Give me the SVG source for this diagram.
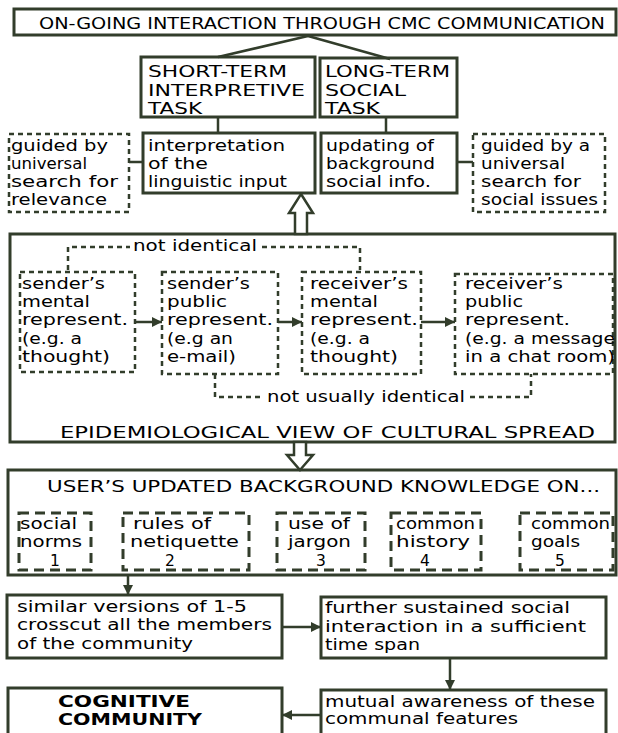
<svg xmlns="http://www.w3.org/2000/svg" width="618" height="733" viewBox="0 0 618 733">
<style>
.box{fill:#fff;stroke:#323d2b;stroke-width:3}
.dbox{fill:none;stroke:#323d2b;stroke-width:2.5;stroke-dasharray:5 4}
.lbox{fill:none;stroke:#323d2b;stroke-width:3;stroke-dasharray:10 6}
.ln{stroke:#323d2b;stroke-width:2.5;fill:none}
.dl{stroke:#323d2b;stroke-width:2.5;stroke-dasharray:5 4;fill:none}
.hol{fill:#fff;stroke:#323d2b;stroke-width:2.5;stroke-linejoin:miter}
text{font-family:"DejaVu Sans","Liberation Sans",sans-serif;fill:#000}
.t{font-size:15.5px}
.c{font-size:16px}
.b{font-size:15.5px;font-weight:bold}
</style>
<defs>
<marker id="ah" viewBox="0 0 10 10" refX="10" refY="5" markerWidth="10" markerHeight="10" markerUnits="userSpaceOnUse" orient="auto">
<path d="M0,0 L10,5 L0,10 z" fill="#323d2b"/>
</marker>
</defs>
<rect width="618" height="733" fill="#fff"/>

<g id="top">
<rect class="box" x="14" y="9" width="602" height="26"/>
<text class="c" x="39" y="29" textLength="566" lengthAdjust="spacingAndGlyphs">ON-GOING INTERACTION THROUGH CMC COMMUNICATION</text>
</g>

<g id="short-term">
<rect class="box" x="141" y="57" width="174" height="60"/>
<text class="c" x="148" y="77" textLength="139" lengthAdjust="spacingAndGlyphs">SHORT-TERM</text>
<text class="c" x="148" y="96" textLength="157" lengthAdjust="spacingAndGlyphs">INTERPRETIVE</text>
<text class="c" x="148" y="114" textLength="54" lengthAdjust="spacingAndGlyphs">TASK</text>
</g>

<g id="long-term">
<rect class="box" x="320" y="58" width="137" height="59"/>
<text class="c" x="325" y="77" textLength="125" lengthAdjust="spacingAndGlyphs">LONG-TERM</text>
<text class="c" x="325" y="96" textLength="81" lengthAdjust="spacingAndGlyphs">SOCIAL</text>
<text class="c" x="325" y="114" textLength="55" lengthAdjust="spacingAndGlyphs">TASK</text>
</g>

<g id="guided-relevance">
<rect class="dbox" x="9" y="134" width="120" height="78"/>
<text class="t" x="11" y="151" textLength="97" lengthAdjust="spacingAndGlyphs">guided by</text>
<text class="t" x="11" y="169" textLength="76" lengthAdjust="spacingAndGlyphs">universal</text>
<text class="t" x="11" y="187" textLength="107" lengthAdjust="spacingAndGlyphs">search for</text>
<text class="t" x="11" y="205" textLength="96" lengthAdjust="spacingAndGlyphs">relevance</text>
</g>

<g id="interpretation">
<rect class="box" x="143" y="133" width="172" height="60"/>
<text class="t" x="148" y="151" textLength="137" lengthAdjust="spacingAndGlyphs">interpretation</text>
<text class="t" x="148" y="169" textLength="60" lengthAdjust="spacingAndGlyphs">of the</text>
<text class="t" x="148" y="187" textLength="139" lengthAdjust="spacingAndGlyphs">linguistic input</text>
</g>

<g id="updating">
<rect class="box" x="321" y="133" width="136" height="60"/>
<text class="t" x="326" y="151" textLength="108" lengthAdjust="spacingAndGlyphs">updating of</text>
<text class="t" x="326" y="169" textLength="109" lengthAdjust="spacingAndGlyphs">background</text>
<text class="t" x="326" y="187" textLength="105" lengthAdjust="spacingAndGlyphs">social info.</text>
</g>

<g id="guided-social">
<rect class="dbox" x="473" y="134" width="132" height="78"/>
<text class="t" x="481" y="151" textLength="109" lengthAdjust="spacingAndGlyphs">guided by a</text>
<text class="t" x="481" y="169" textLength="84" lengthAdjust="spacingAndGlyphs">universal</text>
<text class="t" x="481" y="187" textLength="100" lengthAdjust="spacingAndGlyphs">search for</text>
<text class="t" x="481" y="205" textLength="117" lengthAdjust="spacingAndGlyphs">social issues</text>
</g>

<g id="epidemiological">
<rect class="box" x="10" y="234" width="605" height="208"/>
<text class="t" x="133" y="251" textLength="124" lengthAdjust="spacingAndGlyphs">not identical</text>
<text class="t" x="267" y="402" textLength="198" lengthAdjust="spacingAndGlyphs">not usually identical</text>
<text class="c" x="60" y="438" textLength="535" lengthAdjust="spacingAndGlyphs">EPIDEMIOLOGICAL VIEW OF CULTURAL SPREAD</text>
</g>

<g id="sender-mental">
<rect class="dbox" x="20" y="272" width="115" height="100"/>
<text class="t" x="22" y="289" textLength="83" lengthAdjust="spacingAndGlyphs">sender’s</text>
<text class="t" x="22" y="307" textLength="68" lengthAdjust="spacingAndGlyphs">mental</text>
<text class="t" x="22" y="325" textLength="106" lengthAdjust="spacingAndGlyphs">represent.</text>
<text class="t" x="22" y="344" textLength="60" lengthAdjust="spacingAndGlyphs">(e.g. a</text>
<text class="t" x="22" y="362" textLength="88" lengthAdjust="spacingAndGlyphs">thought)</text>
</g>

<g id="sender-public">
<rect class="dbox" x="162" y="272" width="116" height="102"/>
<text class="t" x="167" y="289" textLength="83" lengthAdjust="spacingAndGlyphs">sender’s</text>
<text class="t" x="167" y="307" textLength="60" lengthAdjust="spacingAndGlyphs">public</text>
<text class="t" x="167" y="325" textLength="106" lengthAdjust="spacingAndGlyphs">represent.</text>
<text class="t" x="167" y="344" textLength="66" lengthAdjust="spacingAndGlyphs">(e.g an</text>
<text class="t" x="167" y="362" textLength="69" lengthAdjust="spacingAndGlyphs">e-mail)</text>
</g>

<g id="receiver-mental">
<rect class="dbox" x="302" y="272" width="119" height="102"/>
<text class="t" x="310" y="289" textLength="98" lengthAdjust="spacingAndGlyphs">receiver’s</text>
<text class="t" x="310" y="307" textLength="68" lengthAdjust="spacingAndGlyphs">mental</text>
<text class="t" x="310" y="325" textLength="108" lengthAdjust="spacingAndGlyphs">represent.</text>
<text class="t" x="310" y="344" textLength="60" lengthAdjust="spacingAndGlyphs">(e.g. a</text>
<text class="t" x="310" y="362" textLength="88" lengthAdjust="spacingAndGlyphs">thought)</text>
</g>

<g id="receiver-public">
<rect class="dbox" x="455" y="274" width="158" height="100"/>
<text class="t" x="465" y="289" textLength="98" lengthAdjust="spacingAndGlyphs">receiver’s</text>
<text class="t" x="465" y="307" textLength="58" lengthAdjust="spacingAndGlyphs">public</text>
<text class="t" x="465" y="325" textLength="105" lengthAdjust="spacingAndGlyphs">represent.</text>
<text class="t" x="465" y="344" textLength="150" lengthAdjust="spacingAndGlyphs">(e.g. a message</text>
<text class="t" x="465" y="362" textLength="150" lengthAdjust="spacingAndGlyphs">in a chat room)</text>
</g>

<g id="user-knowledge">
<rect class="box" x="8" y="470" width="608" height="105"/>
<text class="c" x="47" y="492" textLength="553" lengthAdjust="spacingAndGlyphs">USER’S UPDATED BACKGROUND KNOWLEDGE ON...</text>
</g>

<g id="k1">
<rect class="lbox" x="19" y="513" width="72" height="57"/>
<text class="t" x="20" y="529" textLength="57" lengthAdjust="spacingAndGlyphs">social</text>
<text class="t" x="20" y="547" textLength="62" lengthAdjust="spacingAndGlyphs">norms</text>
<text class="t" x="55" y="566" text-anchor="middle">1</text>
</g>
<g id="k2">
<rect class="lbox" x="123" y="513" width="126" height="57"/>
<text class="t" x="133" y="529" textLength="78" lengthAdjust="spacingAndGlyphs">rules of</text>
<text class="t" x="130" y="547" textLength="109" lengthAdjust="spacingAndGlyphs">netiquette</text>
<text class="t" x="170" y="566" text-anchor="middle">2</text>
</g>
<g id="k3">
<rect class="lbox" x="277" y="513" width="88" height="57"/>
<text class="t" x="288" y="529" textLength="62" lengthAdjust="spacingAndGlyphs">use of</text>
<text class="t" x="288" y="547" textLength="63" lengthAdjust="spacingAndGlyphs">jargon</text>
<text class="t" x="321" y="566" text-anchor="middle">3</text>
</g>
<g id="k4">
<rect class="lbox" x="391" y="513" width="90" height="57"/>
<text class="t" x="396" y="529" textLength="79" lengthAdjust="spacingAndGlyphs">common</text>
<text class="t" x="396" y="547" textLength="74" lengthAdjust="spacingAndGlyphs">history</text>
<text class="t" x="425" y="566" text-anchor="middle">4</text>
</g>
<g id="k5">
<rect class="lbox" x="520" y="513" width="93" height="57"/>
<text class="t" x="531" y="529" textLength="79" lengthAdjust="spacingAndGlyphs">common</text>
<text class="t" x="531" y="547" textLength="49" lengthAdjust="spacingAndGlyphs">goals</text>
<text class="t" x="560" y="566" text-anchor="middle">5</text>
</g>

<g id="similar-versions">
<rect class="box" x="7" y="595" width="275" height="63"/>
<text class="t" x="17" y="612" textLength="230" lengthAdjust="spacingAndGlyphs">similar versions of 1-5</text>
<text class="t" x="17" y="630" textLength="255" lengthAdjust="spacingAndGlyphs">crosscut all the members</text>
<text class="t" x="17" y="649" textLength="176" lengthAdjust="spacingAndGlyphs">of the community</text>
</g>

<g id="further-interaction">
<rect class="box" x="321" y="597" width="285" height="61"/>
<text class="t" x="325" y="613" textLength="245" lengthAdjust="spacingAndGlyphs">further sustained social</text>
<text class="t" x="325" y="632" textLength="261" lengthAdjust="spacingAndGlyphs">interaction in a sufficient</text>
<text class="t" x="325" y="650" textLength="95" lengthAdjust="spacingAndGlyphs">time span</text>
</g>

<g id="mutual-awareness">
<rect class="box" x="321" y="690" width="285" height="52"/>
<text class="t" x="325" y="707" textLength="270" lengthAdjust="spacingAndGlyphs">mutual awareness of these</text>
<text class="t" x="325" y="724" textLength="193" lengthAdjust="spacingAndGlyphs">communal features</text>
</g>

<g id="cognitive-community">
<rect class="box" x="8" y="688" width="274" height="54"/>
<text class="b" x="58" y="707" textLength="132" lengthAdjust="spacingAndGlyphs">COGNITIVE</text>
<text class="b" x="58" y="725" textLength="144" lengthAdjust="spacingAndGlyphs">COMMUNITY</text>
</g>

<g id="connectors">
<path class="ln" d="M308,36 L218,57 M308,36 L390,59"/>
<path class="ln" d="M218,117 V133 M386,117 V133"/>
<path class="ln" d="M129,162 H143 M457,162 H473"/>
<polygon class="hol" points="301,194 313,213 307,213 307,234 295,234 295,213 289,213"/>
<polygon class="hol" points="300,470 313,455 306,455 306,442 294,442 294,455 287,455"/>
<path class="dl" d="M68,270 V247 H130 M262,247 H360 V270"/>
<path class="dl" d="M215,374 V397 H262 M470,397 H531 V374"/>
<path class="ln" marker-end="url(#ah)" d="M135,322 H162"/>
<path class="ln" marker-end="url(#ah)" d="M278,322 H302"/>
<path class="ln" marker-end="url(#ah)" d="M421,322 H455"/>
<path class="ln" marker-end="url(#ah)" d="M128,575 V595"/>
<path class="ln" marker-end="url(#ah)" d="M282,627 H321"/>
<path class="ln" marker-end="url(#ah)" d="M450,658 V690"/>
<path class="ln" marker-end="url(#ah)" d="M321,715 H282"/>
</g>
</svg>
